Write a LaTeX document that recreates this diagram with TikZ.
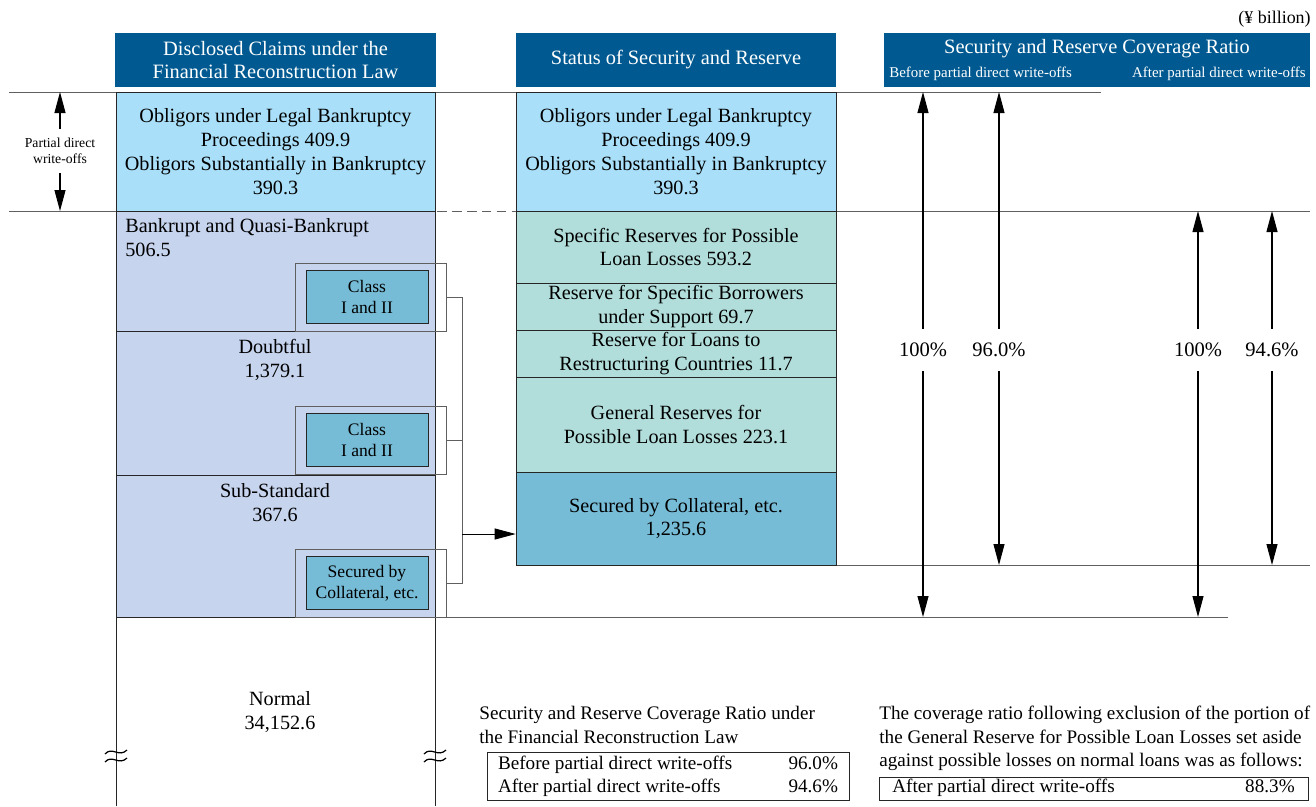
\documentclass[tikz,border=0pt]{standalone}
\usepackage{fontspec}
\setmainfont{Liberation Serif}
\usepackage{xcolor}
\definecolor{dark_blue}{RGB}{0,90,145}
\definecolor{sky_blue}{RGB}{169,223,248}
\definecolor{lavender_blue}{RGB}{198,212,238}
\definecolor{pale_teal}{RGB}{177,222,219}
\definecolor{mid_blue}{RGB}{119,188,214}
\definecolor{rule_gray}{RGB}{95,95,95}
\usetikzlibrary{arrows.meta}

\begin{document}
\begin{tikzpicture}[x=0.02cm, y=-0.02cm,
  hdbox/.style={fill=dark_blue, text=white, align=center, inner sep=0pt, minimum height=1.08cm, font=\fontsize{11.6}{13.6}\selectfont},
  blockbox/.style={draw=black!85, align=center, inner sep=0pt, font=\fontsize{11.5}{13.6}\selectfont},
  classbox/.style={draw=black!85, fill=mid_blue, align=center, inner sep=0pt, minimum width=2.44cm, minimum height=1.06cm, font=\fontsize{10}{11.8}\selectfont},
  classframe/.style={draw=rule_gray, inner sep=0pt, minimum width=3.02cm, minimum height=1.36cm},
  plaintext/.style={align=center, inner sep=0pt, font=\fontsize{11.5}{13.6}\selectfont},
  ratiolabel/.style={inner sep=0pt, minimum height=0.84cm, font=\fontsize{11.7}{13}\selectfont},
  guide/.style={draw=rule_gray, line width=0.5pt},
  dimarrow/.style={draw=black, line width=0.6pt, -{Triangle[length=0.42cm, width=0.22cm]}}]
\useasboundingbox (0,0) rectangle (1316,806);

\node[anchor=east, inner sep=0pt, font=\fontsize{10.2}{12}\selectfont] (unit) at (1311,19) {(¥ billion)};

\node[hdbox, minimum width=6.42cm] (hdA) at (275.5,60) {Disclosed Claims under the\\Financial Reconstruction Law};
\node[hdbox, minimum width=6.4cm] (hdB) at (676,60) {Status of Security and Reserve};
\node[hdbox, minimum width=8.52cm] (hdC) at (1097,60) {};
\node[text=white, inner sep=0pt, font=\fontsize{11.6}{13.6}\selectfont] (hdCt) at (1097,49) {Security and Reserve Coverage Ratio};
\node[anchor=west, text=white, inner sep=0pt, font=\fontsize{8.5}{10}\selectfont] (hdCb) at (889,74) {Before partial direct write-offs};
\node[anchor=east, text=white, inner sep=0pt, font=\fontsize{8.5}{10}\selectfont] (hdCa) at (1306,74) {After partial direct write-offs};

\draw[guide] (9,92) -- (1101,92);
\draw[guide] (9,211) -- (116,211);
\draw[guide, dash pattern=on 5.5pt off 3pt] (437,211) -- (516,211);
\draw[guide] (836,211) -- (1310,211);
\draw[guide] (836,565) -- (1310,565);
\draw[guide] (446,617) -- (1228,617);

\node[blockbox, fill=sky_blue, minimum width=6.38cm, minimum height=2.38cm] (obA) at (275.5,151.5) {Obligors under Legal Bankruptcy\\Proceedings 409.9\\Obligors Substantially in Bankruptcy\\390.3};
\node[blockbox, fill=sky_blue, minimum width=6.4cm, minimum height=2.38cm] (obB) at (676,151.5) {Obligors under Legal Bankruptcy\\Proceedings 409.9\\Obligors Substantially in Bankruptcy\\390.3};

\node[blockbox, fill=lavender_blue, minimum width=6.38cm, minimum height=2.4cm] (bq) at (275.5,271) {};
\node[blockbox, fill=lavender_blue, minimum width=6.38cm, minimum height=2.88cm] (db) at (275.5,403) {};
\node[blockbox, fill=lavender_blue, minimum width=6.38cm, minimum height=2.84cm] (ss) at (275.5,546) {};
\node[plaintext, align=left, anchor=north west] (bqt) at (125,218) {Bankrupt and Quasi-Bankrupt\\506.5};
\node[plaintext] (dbt) at (275,360) {Doubtful\\1,379.1};
\node[plaintext] (sst) at (275,503) {Sub-Standard\\367.6};

\draw[draw=black!85] (116,806) -- (116,617) -- (435,617) -- (435,806);
\node[plaintext] (nm) at (280,712) {Normal\\34,152.6};
\foreach \bx in {116,435}{
  \draw[line width=0.7pt] (\bx-11,754) .. controls (\bx-4,746) and (\bx+3,758) .. (\bx+11,750);
  \draw[line width=0.7pt] (\bx-11,762) .. controls (\bx-4,754) and (\bx+3,766) .. (\bx+11,758);
}

\node[classframe] (cAo) at (370.5,297) {};
\node[classframe] (cBo) at (370.5,440) {};
\node[classframe] (cCo) at (370.5,583) {};
\node[classbox] (cA) at (367,297) {Class\\I and II};
\node[classbox] (cB) at (367,440) {Class\\I and II};
\node[classbox] (cC) at (367,583) {Secured by\\Collateral, etc.};

\node[blockbox, fill=pale_teal, minimum width=6.4cm, minimum height=1.44cm] (sp) at (676,247) {Specific Reserves for Possible\\Loan Losses 593.2};
\node[blockbox, fill=pale_teal, minimum width=6.4cm, minimum height=0.94cm] (sb) at (676,306.5) {Reserve for Specific Borrowers\\under Support 69.7};
\node[blockbox, fill=pale_teal, minimum width=6.4cm, minimum height=0.94cm] (rc) at (676,353.5) {Reserve for Loans to\\Restructuring Countries 11.7};
\node[blockbox, fill=pale_teal, minimum width=6.4cm, minimum height=1.9cm] (gr) at (676,424.5) {General Reserves for\\Possible Loan Losses 223.1};
\node[blockbox, fill=mid_blue, minimum width=6.4cm, minimum height=1.86cm] (sc) at (676,518.5) {Secured by Collateral, etc.\\1,235.6};

\draw[guide] (cAo.east) -- ++(16,0) |- (cCo.east);
\draw[guide] (cBo.east) -- ++(16,0);
\coordinate (brk) at (462,534);
\draw[dimarrow, line width=0.5pt] (brk) -- (brk -| sc.west);

\node[inner sep=0pt, minimum height=0.86cm, align=center, font=\fontsize{7.8}{9.2}\selectfont] (wo) at (60,151) {Partial direct\\write-offs};
\draw[dimarrow] (wo.north) -- (60,92);
\draw[dimarrow] (wo.south) -- (60,211);

\node[ratiolabel] (pA) at (923,350) {100\%};
\node[ratiolabel] (pB) at (999,350) {96.0\%};
\node[ratiolabel] (pC) at (1198,350) {100\%};
\node[ratiolabel] (pD) at (1272,350) {94.6\%};
\draw[dimarrow] (pA.north) -- (923,92);
\draw[dimarrow] (pA.south) -- (923,617);
\draw[dimarrow] (pB.north) -- (999,92);
\draw[dimarrow] (pB.south) -- (999,565);
\draw[dimarrow] (pC.north) -- (1198,211);
\draw[dimarrow] (pC.south) -- (1198,617);
\draw[dimarrow] (pD.north) -- (1272,211);
\draw[dimarrow] (pD.south) -- (1272,565);

\node[plaintext, font=\fontsize{10.9}{13.4}\selectfont, align=left, anchor=north west] (frl) at (479,706) {Security and Reserve Coverage Ratio under\\the Financial Reconstruction Law};
\node[draw=black!85, inner sep=0pt, minimum width=7.24cm, minimum height=0.96cm, font=\fontsize{10.9}{13}\selectfont] (frlt) at (668,776)
  {\begin{tabular*}{6.8cm}{@{}l@{\extracolsep{\fill}}r@{}}Before partial direct write-offs & 96.0\%\\After partial direct write-offs & 94.6\%\end{tabular*}};
\node[plaintext, font=\fontsize{10.9}{13.4}\selectfont, align=left, anchor=north west] (nrm) at (879,706) {The coverage ratio following exclusion of the portion of\\the General Reserve for Possible Loan Losses set aside\\against possible losses on normal loans was as follows:};
\node[draw=black!85, inner sep=0pt, minimum width=8.58cm, minimum height=0.46cm, font=\fontsize{10.9}{12}\selectfont] (nrmt) at (1093.5,788.5)
  {\begin{tabular*}{8.05cm}{@{}l@{\extracolsep{\fill}}r@{}}After partial direct write-offs & 88.3\%\end{tabular*}};
\end{tikzpicture}
\end{document}
